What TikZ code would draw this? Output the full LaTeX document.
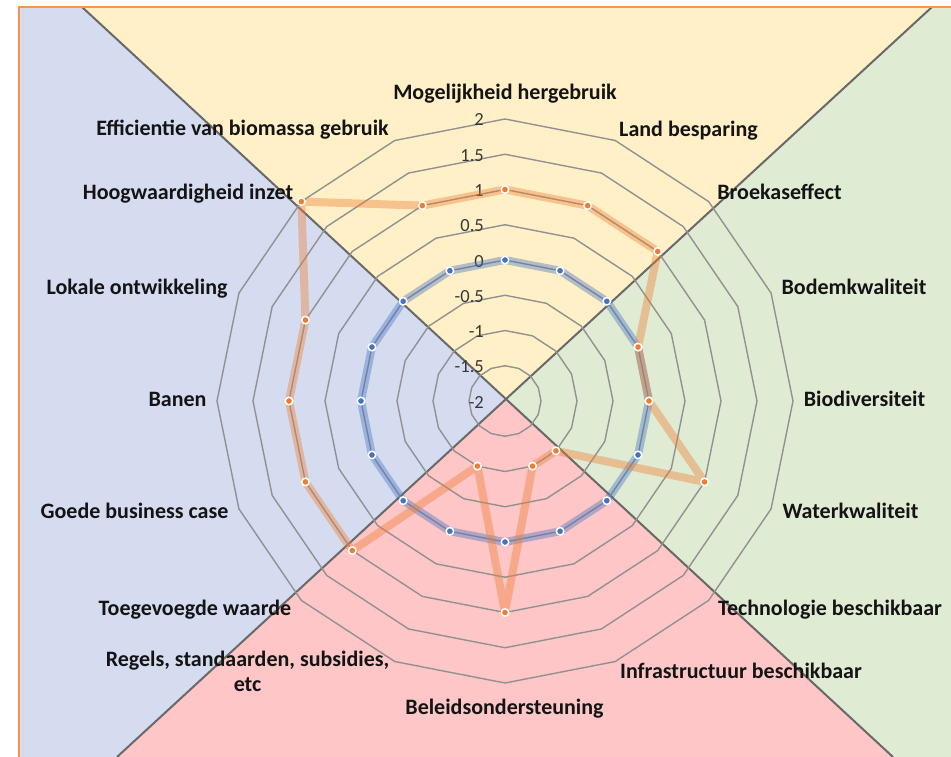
\documentclass[tikz,border=0pt]{standalone}
\usepackage{fontspec}
\setmainfont{Carlito}
\definecolor{bgyellow}{RGB}{255,240,200}
\definecolor{bgblue}{RGB}{213,220,240}
\definecolor{bggreen}{RGB}{224,235,212}
\definecolor{bgpink}{RGB}{254,198,198}
\definecolor{ringgray}{RGB}{145,145,145}
\definecolor{divgray}{RGB}{105,105,105}
\definecolor{seriesorange}{RGB}{237,125,49}
\definecolor{seriesblue}{RGB}{68,114,196}
\definecolor{frameorange}{RGB}{247,150,70}
\definecolor{labeltext}{RGB}{20,20,20}
\tikzset{
  ring/.style={draw=ringgray, line width=1.4pt, line join=round},
  divider/.style={draw=divgray, line width=2pt},
  band/.style={line width=8pt, line join=round, line cap=round, draw opacity=0.4},
  dotmark/.style={circle, inner sep=0pt, minimum size=7.5pt, draw=white, line width=1.5pt},
  cat/.style={font=\bfseries\fontsize{22}{25}\selectfont, text=labeltext, inner sep=0pt},
  scalelbl/.style={font=\fontsize{18.5}{22}\selectfont, text=labeltext!85, inner sep=0pt, anchor=base east}
}
\begin{document}
\begin{tikzpicture}[x=1pt,y=-1pt]
\useasboundingbox (0,0) rectangle (951,757);
\fill[white] (0,0) rectangle (951,757);

% quadrant backgrounds, split by two crossing diagonals
\coordinate (X) at (506,399);
\coordinate (TL) at (82,7);
\coordinate (TR) at (932,7);
\coordinate (BL) at (117,757);
\coordinate (BR) at (893,757);
\fill[bgyellow] (X) -- (TL) -- (TR) -- cycle;
\fill[bgblue] (X) -- (TL) -- (19,7) -- (19,757) -- (BL) -- cycle;
\fill[bgpink] (X) -- (BL) -- (BR) -- cycle;
\fill[bggreen] (X) -- (BR) -- (951,757) -- (951,7) -- (TR) -- cycle;
\draw[divider] (TL) -- (BR);
\draw[divider] (TR) -- (BL);

% frame
\draw[frameorange, line width=2.2pt] (19,757) -- (19,7) -- (951,7);

% grid rings (values -1.5 ... 2)
\foreach \u in {0.5,1,...,4} {
  \draw[ring] plot[samples at={0,22.5,...,337.5}] ({505+72*\u*cos(\x)}, {401-70.5*\u*sin(\x)}) -- cycle;
}

% scale values
\foreach \t [count=\k from 0] in {2,1.5,1,0.5,0,-0.5,-1,-1.5,-2} {
  \node[scalelbl] (s\k) at (484, {126+\k*35.25}) {\t};
}

% series points
\foreach \v [count=\i from 0] in {0,0,0,0,0,0,0,0,0,0,0,0,0,0,0,0} {
  \coordinate (b\i) at ({505+72*(\v+2)*cos(90-22.5*\i)}, {401-70.5*(\v+2)*sin(90-22.5*\i)});
}
\foreach \v [count=\i from 0] in {1,1,1,0,0,1,-1,-1,1,-1,1,1,1,1,2,1} {
  \coordinate (o\i) at ({505+72*(\v+2)*cos(90-22.5*\i)}, {401-70.5*(\v+2)*sin(90-22.5*\i)});
}

% blue series
\draw[band, draw=seriesblue] (b0) \foreach \i in {1,...,15} { -- (b\i) } -- cycle;
\foreach \i in {0,...,15} { \node[dotmark, fill=seriesblue] (bm\i) at (b\i) {}; }

% orange series
\draw[band, draw=seriesorange] (o0) \foreach \i in {1,...,15} { -- (o\i) } -- cycle;
\foreach \i in {0,...,15} { \node[dotmark, fill=seriesorange] (om\i) at (o\i) {}; }

% category labels
\node[cat, anchor=base] (c0) at (505,100) {Mogelijkheid hergebruik};
\node[cat, anchor=base] (c1) at (688.5,136.5) {Land besparing};
\node[cat, anchor=base] (c2) at (779.5,199.5) {Broekaseffect};
\node[cat, anchor=base] (c3) at (854,294) {Bodemkwaliteit};
\node[cat, anchor=base] (c4) at (864.5,406.5) {Biodiversiteit};
\node[cat, anchor=base] (c5) at (850.5,518) {Waterkwaliteit};
\node[cat, anchor=base] (c6) at (830,615) {Technologie beschikbaar};
\node[cat, anchor=base] (c7) at (741,678) {Infrastructuur beschikbaar};
\node[cat, anchor=base] (c8) at (504.5,714) {Beleidsondersteuning};
\node[cat, anchor=base, align=center] (c9) at (247.5,691) {Regels, standaarden, subsidies,\\etc};
\node[cat, anchor=base] (c10) at (195,615) {Toegevoegde waarde};
\node[cat, anchor=base] (c11) at (134.5,518) {Goede business case};
\node[cat, anchor=base] (c12) at (177.5,406.5) {Banen};
\node[cat, anchor=base] (c13) at (137,294) {Lokale ontwikkeling};
\node[cat, anchor=base] (c14) at (188,199.5) {Hoogwaardigheid inzet};
\node[cat, anchor=base] (c15) at (242.5,136) {Efficientie van biomassa gebruik};
\end{tikzpicture}
\end{document}
